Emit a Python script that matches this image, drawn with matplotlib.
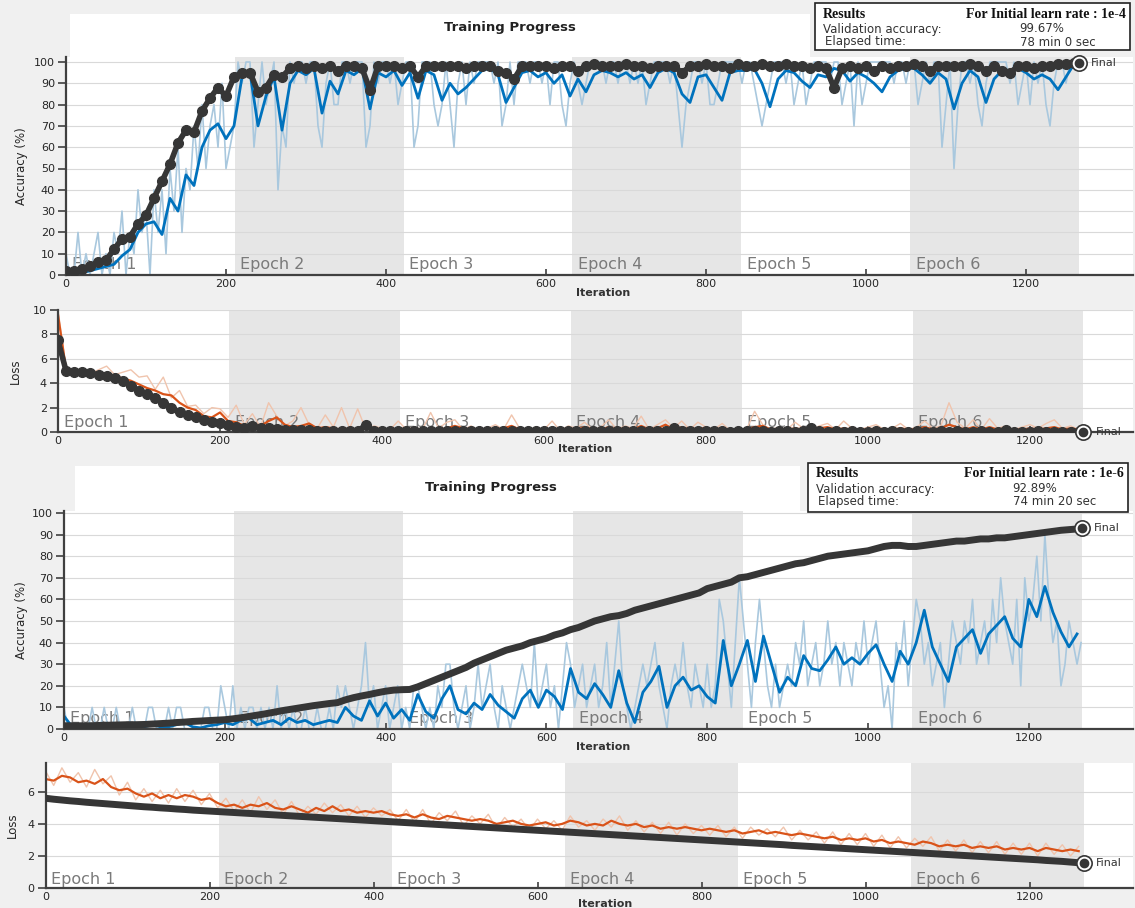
import numpy as np
import matplotlib
matplotlib.use('Agg')
import matplotlib.pyplot as plt
from matplotlib.patches import Rectangle

W, H = 1135, 908
RIGHT = 1133

EPOCH_LEN = 211
N_EPOCHS = 6
LAST_ITER = EPOCH_LEN * N_EPOCHS
STEP = 10          # smoothed curves, validation and raw loss are logged every 10 iterations
RAW_ACC_STEP = 5   # raw mini-batch accuracy, every 5 iterations

# ---------------- initial learn rate 1e-4 ----------------
acc_smooth_1 = [
    0, 1, 1, 2, 3, 4, 5, 9, 12, 20,
    24, 25, 19, 36, 30, 47, 42, 60, 68, 71,
    64, 70, 93, 95, 70, 84, 93, 68, 90, 96,
    94, 97, 76, 91, 85, 96, 94, 97, 78, 95,
    93, 96, 89, 95, 83, 96, 94, 82, 90, 85,
    88, 92, 96, 97, 94, 81, 88, 95, 96, 93,
    95, 90, 94, 84, 92, 86, 94, 96, 95, 93,
    95, 92, 94, 88, 95, 97, 95, 85, 81, 93,
    94, 88, 82, 95, 96, 96, 97, 90, 79, 92,
    96, 95, 91, 88, 94, 93, 97, 96, 91, 95,
    93, 90, 86, 93, 96, 97, 97, 94, 90, 95,
    92, 78, 90, 96, 93, 81, 92, 96, 95, 97,
    95, 92, 94, 92, 87, 93, 99]
acc_val_1 = [
    2, 2, 3, 4, 6, 7, 12, 17, 18, 24,
    28, 36, 44, 52, 62, 68, 67, 77, 83, 88,
    84, 93, 95, 95, 86, 88, 94, 93, 97, 98,
    97, 98, 97, 98, 96, 98, 98, 97, 87, 98,
    98, 98, 97, 98, 93, 98, 98, 98, 98, 98,
    97, 98, 98, 98, 96, 95, 92, 98, 98, 98,
    98, 97, 98, 98, 96, 98, 99, 98, 98, 98,
    99, 98, 98, 97, 98, 98, 98, 95, 98, 98,
    99, 98, 98, 97, 99, 98, 98, 99, 98, 98,
    99, 98, 98, 97, 98, 97, 88, 97, 98, 97,
    98, 96, 98, 97, 98, 98, 99, 98, 96, 98,
    98, 98, 98, 99, 98, 96, 98, 96, 95, 98,
    98, 97, 98, 98, 99, 99, 99.5]
acc_raw_1 = [
    10, 0, 0, 20, 0, 10, 0, 10, 20, 0,
    10, 0, 20, 10, 30, 0, 20, 10, 40, 20,
    30, 0, 40, 20, 40, 10, 50, 30, 60, 20,
    50, 40, 70, 50, 80, 50, 70, 80, 60, 90,
    50, 60, 70, 100, 90, 100, 100, 60, 80, 100,
    80, 90, 100, 40, 70, 60, 100, 90, 100, 100,
    90, 100, 100, 70, 60, 90, 100, 80, 80, 100,
    100, 90, 100, 100, 100, 60, 70, 100, 90, 100,
    100, 90, 100, 80, 90, 100, 100, 60, 70, 100,
    100, 100, 80, 70, 80, 100, 80, 60, 90, 100,
    80, 100, 90, 100, 100, 100, 100, 90, 100, 70,
    80, 100, 80, 100, 100, 100, 90, 100, 100, 90,
    100, 80, 100, 100, 80, 70, 90, 100, 90, 80,
    90, 100, 100, 100, 100, 90, 100, 100, 90, 100,
    100, 90, 100, 90, 100, 80, 90, 100, 100, 100,
    100, 90, 100, 80, 60, 80, 90, 100, 100, 90,
    100, 80, 80, 90, 100, 100, 100, 100, 100, 90,
    100, 100, 90, 80, 70, 80, 90, 100, 100, 100,
    90, 100, 80, 90, 100, 80, 90, 100, 100, 100,
    100, 90, 100, 100, 80, 90, 100, 70, 100, 80,
    90, 100, 100, 100, 100, 100, 100, 90, 100, 100,
    90, 100, 100, 80, 90, 100, 90, 100, 100, 60,
    80, 100, 50, 80, 100, 100, 90, 100, 80, 70,
    90, 100, 100, 100, 100, 100, 90, 100, 80, 90,
    100, 80, 100, 90, 100, 80, 70, 90, 100, 100,
    90, 100, 100, 100]
loss_smooth_1 = [
    9.6, 5.1, 5.0, 4.9, 4.9, 4.8, 4.8, 4.6, 4.4, 4.2,
    3.9, 3.6, 3.4, 3.1, 3.0, 2.4, 2.0, 1.8, 1.3, 1.2,
    1.6, 0.9, 0.8, 0.5, 0.6, 0.5, 0.9, 1.2, 0.6, 0.4,
    0.5, 0.7, 0.3, 0.4, 0.3, 0.2, 0.3, 0.2, 0.3, 0.2,
    0.2, 0.1, 0.2, 0.3, 0.2, 0.1, 0.2, 0.2, 0.3, 0.5,
    0.3, 0.2, 0.1, 0.2, 0.2, 0.3, 0.5, 0.2, 0.1, 0.2,
    0.1, 0.3, 0.1, 0.2, 0.2, 0.4, 0.2, 0.2, 0.4, 0.2,
    0.3, 0.2, 0.5, 0.2, 0.3, 0.6, 0.2, 0.4, 0.2, 0.3,
    0.3, 0.2, 0.3, 0.1, 0.2, 0.2, 0.4, 0.5, 0.2, 0.2,
    0.2, 0.3, 0.2, 0.2, 0.3, 0.4, 0.2, 0.3, 0.2, 0.2,
    0.2, 0.3, 0.2, 0.2, 0.3, 0.2, 0.2, 0.4, 0.2, 0.3,
    0.6, 0.4, 0.2, 0.4, 0.2, 0.4, 0.2, 0.3, 0.2, 0.2,
    0.3, 0.2, 0.3, 0.4, 0.2, 0.3, 0.2]
loss_val_1 = [
    7.5, 5.0, 4.9, 4.9, 4.8, 4.7, 4.6, 4.4, 4.2, 3.8,
    3.4, 3.1, 2.8, 2.4, 2.0, 1.6, 1.4, 1.2, 1.0, 0.8,
    0.7, 0.6, 0.4, 0.35, 0.5, 0.3, 0.3, 0.25, 0.2, 0.2,
    0.15, 0.15, 0.1, 0.12, 0.1, 0.1, 0.1, 0.1, 0.55, 0.1,
    0.1, 0.08, 0.1, 0.08, 0.1, 0.08, 0.07, 0.1, 0.08, 0.07,
    0.08, 0.07, 0.1, 0.07, 0.06, 0.08, 0.07, 0.06, 0.07, 0.06,
    0.06, 0.07, 0.05, 0.06, 0.08, 0.06, 0.05, 0.06, 0.05, 0.06,
    0.05, 0.06, 0.05, 0.07, 0.05, 0.06, 0.3, 0.05, 0.06, 0.05,
    0.05, 0.06, 0.05, 0.04, 0.05, 0.05, 0.06, 0.05, 0.04, 0.05,
    0.05, 0.04, 0.05, 0.35, 0.05, 0.04, 0.05, 0.04, 0.05, 0.04,
    0.04, 0.05, 0.04, 0.05, 0.04, 0.04, 0.05, 0.04, 0.04, 0.05,
    0.04, 0.05, 0.04, 0.04, 0.05, 0.04, 0.04, 0.2, 0.04, 0.04,
    0.04, 0.05, 0.04, 0.04, 0.04, 0.04, 0.04]
loss_raw_1 = [
    10.0, 5.3, 5.0, 5.2, 4.8, 5.1, 5.4, 4.7, 4.9, 5.1,
    4.5, 4.6, 3.5, 4.5, 2.8, 3.4, 2.1, 2.2, 1.5, 2.0,
    1.9, 1.2, 2.2, 0.6, 1.5, 0.4, 2.4, 1.3, 0.5, 0.9,
    2.0, 0.6, 0.3, 1.4, 0.4, 2.0, 0.3, 1.9, 0.2, 0.5,
    0.3, 0.2, 0.9, 0.2, 0.4, 0.2, 1.6, 0.3, 0.8, 1.0,
    0.2, 0.5, 0.1, 0.3, 0.6, 0.2, 1.4, 0.3, 0.1, 0.4,
    0.2, 0.9, 0.1, 0.5, 0.3, 0.8, 0.2, 0.4, 1.0, 0.2,
    0.5, 0.3, 1.3, 0.2, 0.6, 1.0, 0.3, 0.9, 0.2, 0.8,
    0.4, 0.2, 0.7, 0.1, 0.3, 0.2, 1.7, 0.6, 0.2, 0.4,
    0.2, 0.8, 0.3, 0.2, 0.5, 0.7, 0.2, 0.9, 0.3, 0.2,
    0.4, 0.6, 0.2, 0.3, 0.7, 0.2, 0.4, 0.9, 0.3, 0.5,
    2.4, 0.8, 0.3, 1.0, 0.2, 1.1, 0.3, 0.5, 0.2, 0.4,
    0.6, 0.3, 0.7, 1.0, 0.3, 0.5, 0.2]
final_acc_1 = 99.67
final_loss_1 = 0.04
elapsed_1 = '78 min 0 sec'

# ---------------- initial learn rate 1e-6 ----------------
acc_smooth_2 = [
    6, 1, 0.5, 0.5, 1, 0.5, 0.5, 0.5, 1, 0.5,
    1, 2, 1, 1, 2, 3, 1, 0.5, 1.5, 2,
    3, 2, 4, 5, 2, 3, 4, 2, 5, 3,
    4, 2, 3, 4, 3, 10, 6, 4, 13, 6,
    12, 5, 9, 4, 16, 8, 5, 14, 20, 9,
    7, 12, 9, 16, 11, 8, 5, 14, 18, 10,
    18, 15, 9, 28, 17, 14, 21, 16, 10, 27,
    12, 3, 17, 22, 29, 10, 20, 24, 18, 20,
    15, 12, 41, 20, 30, 41, 22, 43, 30, 17,
    24, 20, 34, 28, 27, 32, 38, 30, 33, 30,
    35, 39, 30, 22, 36, 30, 40, 55, 38, 30,
    22, 38, 42, 46, 35, 44, 48, 52, 42, 38,
    60, 52, 66, 54, 45, 38, 44]
acc_val_2 = [
    1.5, 1.5, 1.5, 1.5, 1.6, 1.7, 1.8, 1.9, 2, 2,
    2.1, 2.3, 2.5, 2.7, 3, 3.2, 3.5, 3.7, 3.9, 4.1,
    4.3, 4.7, 5.2, 5.8, 6.4, 7, 7.7, 8.4, 9, 9.6,
    10.2, 10.8, 11.3, 11.8, 12.2, 13.5, 14.5, 15.3, 16, 16.8,
    17.5, 18, 18.2, 18.3, 19.5, 21, 22.5, 24, 25.5, 27,
    28.5, 30.5, 32, 33.5, 35, 36.5, 37.5, 38.5, 40, 41,
    42, 43.5, 44.5, 46, 47, 48.5, 50, 51, 52, 52.5,
    53.5, 55, 56, 57, 58, 59, 60, 61, 62, 63,
    65, 66, 67, 68, 70, 70.5, 71.5, 72.5, 73.5, 74.5,
    75.5, 76.5, 77, 78, 79, 80, 80.5, 81, 81.5, 82,
    82.5, 83.5, 84.5, 85, 85, 84.5, 84.5, 85, 85.5, 86,
    86.5, 87, 87, 87.5, 88, 88, 88.5, 88.5, 89, 89.5,
    90, 90.5, 91, 91.5, 92, 92.3, 92.6]
acc_raw_2 = [
    10, 0, 0, 0, 0, 0, 0, 10, 0, 0,
    10, 0, 0, 10, 0, 0, 0, 10, 0, 0,
    0, 10, 10, 0, 0, 0, 10, 0, 10, 10,
    0, 0, 0, 0, 0, 10, 10, 0, 0, 20,
    10, 0, 20, 0, 10, 0, 10, 10, 0, 10,
    0, 10, 0, 20, 0, 10, 0, 10, 0, 0,
    10, 0, 0, 10, 0, 0, 10, 0, 20, 10,
    20, 10, 0, 10, 20, 40, 10, 20, 0, 10,
    20, 0, 10, 20, 0, 10, 0, 20, 20, 10,
    0, 10, 0, 20, 10, 30, 30, 10, 0, 10,
    20, 0, 10, 30, 10, 20, 30, 10, 0, 20,
    10, 0, 10, 20, 30, 20, 10, 40, 10, 20,
    30, 10, 20, 0, 20, 40, 30, 10, 20, 30,
    10, 20, 30, 10, 20, 40, 10, 30, 50, 20,
    10, 0, 10, 20, 30, 20, 30, 40, 20, 10,
    0, 20, 30, 20, 40, 20, 10, 30, 20, 10,
    30, 10, 20, 60, 50, 30, 10, 40, 70, 50,
    30, 10, 40, 60, 40, 20, 10, 30, 10, 20,
    30, 20, 40, 30, 50, 20, 30, 40, 20, 30,
    50, 30, 40, 20, 40, 30, 20, 40, 30, 50,
    30, 40, 50, 30, 10, 20, 0, 40, 30, 50,
    20, 40, 60, 50, 30, 40, 20, 30, 40, 10,
    30, 50, 40, 30, 50, 40, 60, 30, 40, 50,
    30, 60, 40, 70, 50, 40, 30, 60, 20, 70,
    50, 60, 80, 50, 90, 60, 40, 50, 20, 30,
    50, 40, 30, 40]
loss_smooth_2 = [
    6.8, 6.7, 7.0, 6.9, 6.6, 6.7, 6.5, 6.8, 6.3, 6.1,
    6.2, 5.9, 5.7, 5.9, 5.6, 5.8, 5.6, 5.8, 5.7, 5.5,
    5.6, 5.3, 5.1, 5.2, 5.0, 5.2, 5.1, 5.3, 5.0, 4.9,
    5.1, 4.9, 4.7, 5.0, 4.8, 5.1, 4.8, 4.9, 4.7, 4.8,
    4.7, 4.8, 4.6, 4.5, 4.6, 4.4, 4.6, 4.4, 4.3, 4.5,
    4.4, 4.3, 4.2, 4.3, 4.2, 4.0, 4.1, 4.2, 4.0, 3.9,
    4.0, 4.1, 3.9, 4.0, 4.2, 4.1, 3.9, 4.0, 3.9, 4.2,
    4.0, 3.9, 4.0, 3.8, 3.9, 3.7, 3.8, 3.7, 3.8, 3.7,
    3.6, 3.7, 3.6, 3.5, 3.6, 3.4, 3.5, 3.6, 3.4, 3.5,
    3.4, 3.3, 3.4, 3.3, 3.2, 3.1, 3.2, 3.0, 3.1, 3.0,
    3.1, 2.9, 3.0, 2.8, 2.9, 2.8, 2.7, 2.9, 2.8, 2.6,
    2.7, 2.6, 2.7, 2.5, 2.6, 2.5, 2.6, 2.4, 2.5, 2.4,
    2.5, 2.3, 2.5, 2.4, 2.3, 2.4, 2.3]
loss_val_2 = [
    5.60, 5.54, 5.49, 5.44, 5.40, 5.35, 5.31, 5.27, 5.23, 5.19,
    5.15, 5.11, 5.07, 5.04, 5.00, 4.97, 4.93, 4.90, 4.86, 4.83,
    4.80, 4.77, 4.74, 4.71, 4.68, 4.65, 4.62, 4.59, 4.56, 4.53,
    4.50, 4.47, 4.44, 4.41, 4.38, 4.35, 4.32, 4.29, 4.26, 4.23,
    4.20, 4.17, 4.14, 4.11, 4.08, 4.05, 4.02, 3.99, 3.96, 3.93,
    3.90, 3.87, 3.84, 3.81, 3.78, 3.75, 3.72, 3.69, 3.66, 3.63,
    3.60, 3.57, 3.54, 3.51, 3.48, 3.45, 3.42, 3.39, 3.36, 3.33,
    3.30, 3.27, 3.24, 3.21, 3.18, 3.15, 3.12, 3.09, 3.06, 3.03,
    3.00, 2.97, 2.94, 2.91, 2.88, 2.85, 2.82, 2.79, 2.76, 2.73,
    2.70, 2.66, 2.63, 2.60, 2.57, 2.54, 2.51, 2.48, 2.45, 2.42,
    2.39, 2.36, 2.33, 2.30, 2.27, 2.24, 2.21, 2.18, 2.15, 2.12,
    2.09, 2.06, 2.03, 2.00, 1.97, 1.94, 1.91, 1.88, 1.85, 1.82,
    1.79, 1.76, 1.72, 1.69, 1.66, 1.62, 1.58]
loss_raw_2 = [
    7.3, 6.4, 7.5, 6.6, 7.2, 6.3, 7.4, 6.5, 7.0, 5.8,
    6.6, 5.5, 6.2, 5.4, 6.1, 5.3, 6.2, 5.4, 6.1, 5.2,
    5.9, 5.0, 5.6, 4.8, 5.5, 4.7, 5.7, 4.9, 5.5, 4.6,
    5.4, 4.5, 5.1, 4.6, 5.3, 4.7, 5.2, 4.5, 5.1, 4.4,
    5.0, 4.5, 4.9, 4.2, 4.9, 4.1, 4.9, 4.0, 4.7, 4.2,
    4.8, 3.9, 4.5, 4.0, 4.6, 3.7, 4.4, 3.8, 4.3, 3.6,
    4.3, 3.7, 4.2, 3.6, 4.5, 3.8, 4.2, 3.6, 4.3, 3.8,
    4.5, 3.6, 4.2, 3.5, 4.1, 3.4, 4.1, 3.3, 4.0, 3.4,
    3.9, 3.3, 3.9, 3.2, 3.8, 3.1, 3.8, 3.3, 3.7, 3.2,
    3.8, 3.0, 3.6, 3.0, 3.5, 2.8, 3.5, 2.7, 3.4, 2.7,
    3.4, 2.6, 3.3, 2.5, 3.2, 2.5, 3.1, 2.6, 3.2, 2.3,
    3.0, 2.3, 3.0, 2.2, 2.9, 2.2, 2.9, 2.1, 2.8, 2.1,
    2.8, 2.0, 2.8, 2.1, 2.7, 2.0, 2.6]
final_acc_2 = 92.89
final_loss_2 = 1.55
elapsed_2 = '74 min 20 sec'

BLUE = '#0072bd'
LIGHT_BLUE = '#a9c8de'
ORANGE = '#d95319'
LIGHT_ORANGE = '#f0c4ad'
DARK = '#363636'
SHADE = '#e6e6e6'
GRID = '#d9d9d9'
AXIS = '#404040'


def iters(values, step):
    return np.arange(len(values)) * step


def fig_xy(x, y):
    return x / W, 1 - y / H


def make_axes(fig, left, top, bottom, px_per_iter, ymax, yticks, ylabel, ylabel_x,
              epoch_y, xlabel_xy):
    ax = fig.add_axes([left / W, 1 - bottom / H, (RIGHT - left) / W, (bottom - top) / H])
    ax.set_facecolor('white')
    ax.set_xlim(0, (RIGHT - left) / px_per_iter)
    ax.set_ylim(0, ymax)
    for e in range(N_EPOCHS):
        start = e * EPOCH_LEN
        if e % 2 == 1:
            ax.axvspan(start, start + EPOCH_LEN, color=SHADE, lw=0, zorder=0)
        ax.text(start + 7, epoch_y, 'Epoch %d' % (e + 1), color='#7a7a7a',
                fontsize=11.5, va='center', zorder=0.8)
    ax.set_yticks(yticks)
    ax.set_xticks(range(0, 1201, 200))
    ax.set_axisbelow(True)
    ax.yaxis.grid(True, color=GRID, lw=0.8)
    for side in ['top', 'right']:
        ax.spines[side].set_visible(False)
    for side in ['left', 'bottom']:
        ax.spines[side].set_color(AXIS)
        ax.spines[side].set_linewidth(1.6)
    ax.tick_params(axis='y', direction='out', length=6, width=1.2, color=AXIS,
                   labelsize=8, labelcolor='#262626', pad=2)
    ax.tick_params(axis='x', direction='in', length=4, width=1.2, color=AXIS,
                   labelsize=8, labelcolor='#262626', pad=3)
    x, y = fig_xy(ylabel_x, (top + bottom) / 2)
    fig.text(x, y, ylabel, rotation=90, ha='center', va='center', fontsize=8.5, color='#262626')
    x, y = fig_xy(*xlabel_xy)
    fig.text(x, y, 'Iteration', ha='center', va='center', fontsize=8,
             fontweight='bold', color='#333333')
    return ax


def mark_final(ax, x, y):
    ax.plot(x, y, 'o', ms=11, mfc='white', mec=DARK, mew=1.2, zorder=5, clip_on=False)
    ax.plot(x, y, 'o', ms=6, color=DARK, zorder=6, clip_on=False)
    ax.annotate('Final', (x, y), xytext=(9, 0), textcoords='offset points',
                va='center', fontsize=8, color='#333333')


def results_box(fig, left, top, right, bottom, rate, acc, elapsed):
    x0, y0 = fig_xy(left, bottom)
    fig.patches.append(Rectangle((x0, y0), (right - left) / W, (bottom - top) / H,
                                 transform=fig.transFigure, facecolor='white',
                                 edgecolor='#222222', lw=1.2))
    serif = dict(family='Liberation Serif', fontweight='bold', fontsize=10, color='#111111', va='center')
    sans = dict(fontsize=8.5, color='#333333', va='center')
    fig.text(*fig_xy(left + 8, top + 11), 'Results', **serif)
    fig.text(*fig_xy(right - 4, top + 11), 'For Initial learn rate : ' + rate, ha='right', **serif)
    fig.text(*fig_xy(left + 8, top + 26), 'Validation accuracy:', **sans)
    fig.text(*fig_xy(left + 204, top + 26), '%.2f%%' % acc, **sans)
    fig.text(*fig_xy(left + 10, top + 39), 'Elapsed time:', **sans)
    fig.text(*fig_xy(left + 205, top + 39), elapsed, **sans)


def white_patch(fig, left, top, right, bottom):
    x0, y0 = fig_xy(left, bottom)
    fig.patches.append(Rectangle((x0, y0), (right - left) / W, (bottom - top) / H,
                                 transform=fig.transFigure, facecolor='white', lw=0, zorder=-1))


fig = plt.figure(figsize=(W / 100, H / 100), dpi=100, facecolor='#f0f0f0')
white_patch(fig, 70, 14, 810, 57)
white_patch(fig, 75, 466, 800, 511)

# accuracy, learn rate 1e-4
ax = make_axes(fig, 66, 275 - 102.5 * 2.13, 275, 0.80, 102.5, range(0, 101, 10),
               'Accuracy (%)', 22, 5, (603, 293))
ax.plot(iters(acc_raw_1, RAW_ACC_STEP), acc_raw_1, color=LIGHT_BLUE, lw=1.2, zorder=1)
ax.plot(iters(acc_smooth_1, STEP), acc_smooth_1, color=BLUE, lw=2, zorder=2)
ax.plot(np.append(iters(acc_val_1, STEP), LAST_ITER), acc_val_1 + [final_acc_1],
        color=DARK, lw=4, marker='o', ms=7, zorder=3)
mark_final(ax, LAST_ITER, final_acc_1)

# loss, learn rate 1e-4
ax = make_axes(fig, 58, 310, 432, 0.81, 10, range(0, 11, 2), 'Loss', 15, 0.75, (585, 449))
ax.plot(iters(loss_raw_1, STEP), loss_raw_1, color=LIGHT_ORANGE, lw=1, zorder=1)
ax.plot(iters(loss_smooth_1, STEP), loss_smooth_1, color=ORANGE, lw=1.6, zorder=2)
ax.plot(np.append(iters(loss_val_1, STEP), LAST_ITER), loss_val_1 + [final_loss_1],
        color=DARK, lw=4, marker='o', ms=7, zorder=3)
mark_final(ax, LAST_ITER, final_loss_1)

# accuracy, learn rate 1e-6
ax = make_axes(fig, 64, 729 - 101 * 2.16, 729, 0.804, 101, range(0, 101, 10),
               'Accuracy (%)', 22, 5, (603, 747))
ax.plot(iters(acc_raw_2, RAW_ACC_STEP), acc_raw_2, color=LIGHT_BLUE, lw=1.2, zorder=1)
ax.plot(iters(acc_smooth_2, STEP), acc_smooth_2, color=BLUE, lw=2, zorder=2)
ax.plot(np.append(iters(acc_val_2, STEP), LAST_ITER), acc_val_2 + [final_acc_2],
        color=DARK, lw=5, solid_capstyle='round', zorder=3)
mark_final(ax, LAST_ITER, final_acc_2)

# loss, learn rate 1e-6
ax = make_axes(fig, 45.5, 763, 888, 0.82, 7.8, range(0, 7, 2), 'Loss', 12, 0.56, (605, 904))
ax.plot(iters(loss_raw_2, STEP), loss_raw_2, color=LIGHT_ORANGE, lw=1, zorder=1)
ax.plot(iters(loss_smooth_2, STEP), loss_smooth_2, color=ORANGE, lw=1.6, zorder=2)
ax.plot(np.append(iters(loss_val_2, STEP), LAST_ITER), loss_val_2 + [final_loss_2],
        color=DARK, lw=5, solid_capstyle='round', zorder=3)
mark_final(ax, LAST_ITER, final_loss_2)

fig.text(*fig_xy(510, 27), 'Training Progress', ha='center', va='center',
         fontsize=9.5, fontweight='bold', color='#222222')
fig.text(*fig_xy(491, 487), 'Training Progress', ha='center', va='center',
         fontsize=9.5, fontweight='bold', color='#222222')

results_box(fig, 815, 3, 1130, 50, '1e-4', final_acc_1, elapsed_1)
results_box(fig, 808, 463, 1128, 512, '1e-6', final_acc_2, elapsed_2)

fig.savefig('out.png', dpi=100, facecolor=fig.get_facecolor())
